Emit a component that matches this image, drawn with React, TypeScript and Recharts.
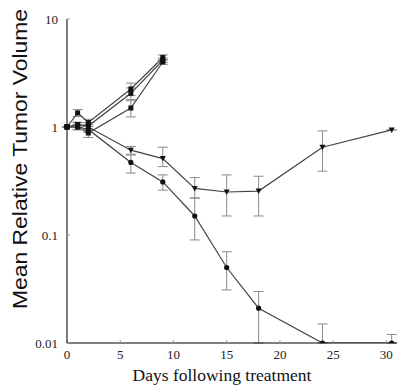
import React from 'react'
import { LineChart, Line, XAxis, YAxis, ErrorBar } from 'recharts'

// days at which tumours were measured
const days = [0, 1, 2, 6, 9, 12, 15, 18, 24, 30.5]

// three untreated / control groups (only measured to day 9)
const groupA = [1.0, 1.35, 1.1, 2.25, 4.4]
const groupAErr = [[0, 0], [0.1, 0.1], [0.08, 0.08], [0.3, 0.3], [0.25, 0.25]]
const groupB = [1.0, 1.05, 1.02, 2.05, 4.15]
const groupBErr = [[0, 0], [0.06, 0.06], [0.08, 0.08], [0.25, 0.25], [0.2, 0.2]]
const groupC = [1.0, 1.0, 0.88, 1.5, 4.0]
const groupCErr = [[0, 0], [0.06, 0.06], [0.08, 0.08], [0.26, 0.25], [0.2, 0.2]]

// treated groups
const groupTri = [1.0, 1.05, 1.0, 0.61, 0.51, 0.27, 0.25, 0.255, 0.65, 0.94]
const groupTriErr = [[0, 0], [0.05, 0.05], [0.06, 0.06], [0.05, 0.05], [0.08, 0.14], [0.05, 0.07], [0.1, 0.11], [0.105, 0.095], [0.26, 0.27], [0, 0]]
const groupDot = [1.0, 1.0, 0.95, 0.47, 0.31, 0.15, 0.05, 0.021, 0.01, 0.01]
const groupDotErr = [[0, 0], [0.05, 0.05], [0.06, 0.06], [0.095, 0.08], [0.05, 0.05], [0.06, 0.07], [0.019, 0.02], [0.011, 0.009], [0, 0.005], [0, 0.002]]

const xTicks = [0, 5, 10, 15, 20, 25, 30]
const yTicks = [0.01, 0.1, 1, 10]

const data = days.map((day, i) => ({
  day,
  a: groupA[i],
  aErr: groupAErr[i],
  b: groupB[i],
  bErr: groupBErr[i],
  c: groupC[i],
  cErr: groupCErr[i],
  tri: groupTri[i],
  triErr: groupTriErr[i],
  dot: groupDot[i],
  dotErr: groupDotErr[i],
}))

const tickStyle = { fontFamily: '"Liberation Serif", serif', fontSize: 13, fill: '#222' }

const Square = (props: any) => {
  const { cx, cy, index } = props
  if (cx == null || cy == null) return <g key={index} />
  return <rect key={index} x={cx - 2.5} y={cy - 2.5} width={5} height={5} fill="#111" />
}

const Tri = (props: any) => {
  const { cx, cy, index } = props
  if (cx == null || cy == null) return <g key={index} />
  return <path key={index} d={`M${cx - 3},${cy - 2.5} L${cx + 3},${cy - 2.5} L${cx},${cy + 3} Z`} fill="#111" />
}

const Dot = (props: any) => {
  const { cx, cy, index } = props
  if (cx == null || cy == null) return <g key={index} />
  return <circle key={index} cx={cx} cy={cy} r={2.6} fill="#111" />
}

export default function App() {
  const line = '#444'
  const err = '#8a8a8a'
  return (
    <div style={{ position: 'absolute', left: 0, top: 0, width: 397, height: 385 }}>
      <LineChart width={397} height={385} data={data} margin={{ top: 19, right: 0, bottom: 0, left: 0 }}>
        <XAxis
          dataKey="day"
          type="number"
          domain={[0, 31]}
          ticks={xTicks}
          height={42}
          tickSize={-3}
          tickMargin={10}
          tick={tickStyle}
          stroke="#000"
          tickLine={{ stroke: '#999' }}
          label={() => (
            <text x={222} y={381} textAnchor="middle" style={{ fontFamily: '"Liberation Serif", serif', fontSize: 17.5, fill: '#111' }}>
              Days following treatment
            </text>
          )}
        />
        <YAxis
          scale="log"
          domain={[0.01, 10]}
          ticks={yTicks}
          allowDataOverflow
          width={67}
          tickSize={-3}
          tickMargin={12}
          tick={tickStyle}
          tickFormatter={(v: number) => String(v)}
          stroke="#000"
          tickLine={{ stroke: '#999' }}
          label={() => (
            <text
              x={27}
              y={159}
              transform="rotate(-90, 27, 159)"
              textAnchor="middle"
              textLength={300}
              lengthAdjust="spacingAndGlyphs"
              style={{ fontFamily: '"Liberation Sans", Arial, sans-serif', fontSize: 21, fill: '#111' }}
            >
              Mean Relative Tumor Volume
            </text>
          )}
        />
        <Line dataKey="a" stroke={line} strokeWidth={1.2} dot={Square} isAnimationActive={false}>
          <ErrorBar dataKey="aErr" width={5} stroke={err} strokeWidth={1} isAnimationActive={false} />
        </Line>
        <Line dataKey="b" stroke={line} strokeWidth={1.2} dot={Square} isAnimationActive={false}>
          <ErrorBar dataKey="bErr" width={5} stroke={err} strokeWidth={1} isAnimationActive={false} />
        </Line>
        <Line dataKey="c" stroke={line} strokeWidth={1.2} dot={Square} isAnimationActive={false}>
          <ErrorBar dataKey="cErr" width={5} stroke={err} strokeWidth={1} isAnimationActive={false} />
        </Line>
        <Line dataKey="tri" stroke={line} strokeWidth={1.2} dot={Tri} isAnimationActive={false}>
          <ErrorBar dataKey="triErr" width={5} stroke={err} strokeWidth={1} isAnimationActive={false} />
        </Line>
        <Line dataKey="dot" stroke={line} strokeWidth={1.2} dot={Dot} isAnimationActive={false}>
          <ErrorBar dataKey="dotErr" width={5} stroke={err} strokeWidth={1} isAnimationActive={false} />
        </Line>
      </LineChart>
    </div>
  )
}
